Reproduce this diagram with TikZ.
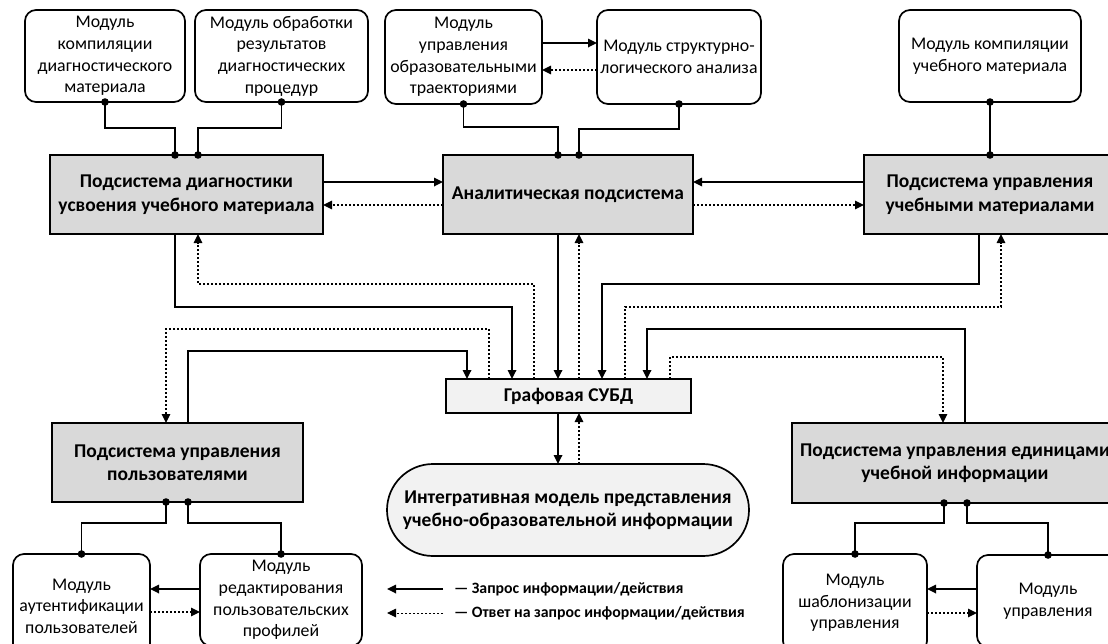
\documentclass[tikz,border=0pt]{standalone}
\usepackage{fontspec}
\setmainfont{Carlito}
\usetikzlibrary{arrows.meta}
\begin{document}
\begin{tikzpicture}[x=1pt,y=-1pt,
  every node/.style={inner sep=0pt, outer sep=0pt},
  module/.style={draw, line width=1.7pt, rounded corners=11pt, fill=white, align=center,
    font=\fontsize{17.8}{21.6}\selectfont},
  subsys/.style={draw, line width=1.7pt, fill=black!15, align=center,
    font=\fontsize{19.5}{23.5}\selectfont\bfseries},
  store/.style={draw, line width=1.7pt, fill=black!5, align=center,
    font=\fontsize{19.5}{23.5}\selectfont\bfseries},
  link/.style={line width=1.7pt},
  req/.style={line width=1.7pt, -{Triangle[length=9pt,width=8.5pt]}},
  resp/.style={line width=1.4pt, dash pattern=on 2pt off 2pt, -{Triangle[length=9pt,width=8.5pt]}},
  legend/.style={anchor=west, font=\fontsize{15.8}{18}\selectfont\bfseries},
  jointdot/.style={fill=black}
]
\useasboundingbox (0,0) rectangle (1108,643);
\clip (0,0) rectangle (1108,643);
\fill[white] (0,0) rectangle (1108,643);

% modules of the upper row
\node[module, minimum width=160pt, minimum height=92pt] (m1) at (105,56)
  {Модуль\\компиляции\\диагностического\\материала};
\node[module, minimum width=173pt, minimum height=92pt] (m2) at (281.5,56)
  {Модуль обработки\\результатов\\диагностических\\процедур};
\node[module, minimum width=157pt, minimum height=94pt] (m3) at (463.5,57)
  {Модуль\\управления\\образовательными\\траекториями};
\node[module, minimum width=164pt, minimum height=94pt] (m4) at (679,57)
  {Модуль структурно-\\логического анализа};
\node[module, minimum width=182pt, minimum height=92pt] (m5) at (990,56)
  {Модуль компиляции\\учебного материала};

% subsystems
\node[subsys, minimum width=273pt, minimum height=79pt] (diag) at (186.5,194.5)
  {Подсистема диагностики\\усвоения учебного материала};
\node[subsys, minimum width=250pt, minimum height=79pt] (anal) at (568,194.5)
  {Аналитическая подсистема};
\node[subsys, minimum width=252pt, minimum height=79pt] (mat) at (990,194.5)
  {Подсистема управления\\учебными материалами};
\node[subsys, minimum width=251pt, minimum height=79pt] (users) at (177.5,462.5)
  {Подсистема управления\\пользователями};
\node[subsys, minimum width=326pt, minimum height=80pt] (units) at (955,463)
  {Подсистема управления единицами\\учебной информации};

% storage
\node[store, minimum width=245pt, minimum height=34pt] (db) at (568.5,396)
  {Графовая СУБД};
\node[store, minimum width=362pt, minimum height=92pt, rounded corners=46pt] (model) at (568,510)
  {Интегративная модель представления\\учебно-образовательной информации};

% modules of the lower row
\node[module, minimum width=137pt, minimum height=104pt] (m6) at (81.5,606)
  {Модуль\\аутентификации\\пользователей};
\node[module, minimum width=162pt, minimum height=92pt] (m7) at (281,600)
  {Модуль\\редактирования\\пользовательских\\профилей};
\node[module, minimum width=144pt, minimum height=98pt] (m8) at (855,603)
  {Модуль\\шаблонизации\\управления};
\node[module, minimum width=142pt, minimum height=92pt] (m9) at (1048,601)
  {Модуль\\управления};

% module-to-subsystem links
\draw[link] (m1.south) -- ++(0,26) -| ([xshift=-11.5pt]diag.north);
\draw[link] (m2.south) -- ++(0,26) -| ([xshift=11.5pt]diag.north);
\draw[link] (m3.south) -- ++(0,23) -| ([xshift=-10pt]anal.north);
\draw[link] (m4.south) -- ++(0,25) -| ([xshift=11pt]anal.north);
\draw[link] (m5.south) -- (mat.north);
\draw[link] ([xshift=-11.5pt]users.south) -- ++(0,21) -| (m6.north);
\draw[link] ([xshift=10.5pt]users.south) -- ++(0,21) -| (m7.north);
\draw[link] ([xshift=-11pt]units.south) -- ++(0,20) -| (m8.north);
\draw[link] ([xshift=12pt]units.south) -- ++(0,20) -| (m9.north);

\foreach \p in {m1.south, m2.south, m3.south, m4.south, m5.south, mat.north,
                m6.north, m7.north, m8.north, m9.north}
  \fill[jointdot] (\p) circle[radius=3.8pt];
\fill[jointdot] ([xshift=-11.5pt]diag.north) circle[radius=3.8pt];
\fill[jointdot] ([xshift=11.5pt]diag.north) circle[radius=3.8pt];
\fill[jointdot] ([xshift=-10pt]anal.north) circle[radius=3.8pt];
\fill[jointdot] ([xshift=11pt]anal.north) circle[radius=3.8pt];
\fill[jointdot] ([xshift=-11.5pt]users.south) circle[radius=3.8pt];
\fill[jointdot] ([xshift=10.5pt]users.south) circle[radius=3.8pt];
\fill[jointdot] ([xshift=-11pt]units.south) circle[radius=3.8pt];
\fill[jointdot] ([xshift=12pt]units.south) circle[radius=3.8pt];

% exchange between the upper modules
\draw[req]  ([yshift=14pt]m3.east) -- ([yshift=14pt]m4.west);
\draw[resp] ([yshift=-13pt]m4.west) -- ([yshift=-13pt]m3.east);

% exchange between the upper subsystems
\draw[req]  ([yshift=12.5pt]diag.east) -- ([yshift=12.5pt]anal.west);
\draw[resp] ([yshift=-10.5pt]anal.west) -- ([yshift=-10.5pt]diag.east);
\draw[req]  ([yshift=12.5pt]mat.west) -- ([yshift=12.5pt]anal.east);
\draw[resp] ([yshift=-10.5pt]anal.east) -- ([yshift=-10.5pt]mat.west);

% exchange with the graph database
\draw[req]  ([xshift=10.5pt]users.north) -- ++(0,-72) -| ([xshift=-101.5pt]db.north);
\draw[resp] ([xshift=-79.5pt]db.north) -- ++(0,-50) -| ([xshift=-11.5pt]users.north);
\draw[req]  ([xshift=-11.5pt]diag.south) -- ++(0,73) -| ([xshift=-56.5pt]db.north);
\draw[resp] ([xshift=-34.5pt]db.north) -- ++(0,-95) -| ([xshift=11.5pt]diag.south);
\draw[req]  ([xshift=-10pt]anal.south) -- ([xshift=-10.5pt]db.north);
\draw[resp] ([xshift=10.5pt]db.north) -- ([xshift=11pt]anal.south);
\draw[req]  ([xshift=-11pt]mat.south) -- ++(0,50) -| ([xshift=33.5pt]db.north);
\draw[resp] ([xshift=56.5pt]db.north) -- ++(0,-72) -| ([xshift=11pt]mat.south);
\draw[req]  ([xshift=10pt]units.north) -- ++(0,-94) -| ([xshift=78.5pt]db.north);
\draw[resp] ([xshift=101.5pt]db.north) -- ++(0,-22) -| ([xshift=-12pt]units.north);
\draw[req]  ([xshift=-10.5pt]db.south) -- ([xshift=-10pt]model.north);
\draw[resp] ([xshift=11pt]model.north) -- ([xshift=10.5pt]db.south);

% exchange between the lower modules
\coordinate (ua) at ([yshift=11pt]m7.west);
\coordinate (ub) at ([yshift=-12pt]m7.west);
\draw[req]  (ua) -- (ua -| m6.east);
\draw[resp] (ub -| m6.east) -- (ub);
\coordinate (ta) at ([yshift=12pt]m9.west);
\coordinate (tb) at ([yshift=-12pt]m9.west);
\draw[req]  (ta) -- (ta -| m8.east);
\draw[resp] (tb -| m8.east) -- (tb);

% legend
\coordinate (la) at (443,589);
\coordinate (lb) at (387,589);
\coordinate (lc) at (443,613);
\coordinate (ld) at (387,613);
\draw[req] (la) -- (lb);
\draw[resp, line width=1pt] (lc) -- (ld);
\node[legend] (lt1) at (454,589) {— Запрос информации/действия};
\node[legend] (lt2) at (454,613) {— Ответ на запрос информации/действия};
\end{tikzpicture}
\end{document}
